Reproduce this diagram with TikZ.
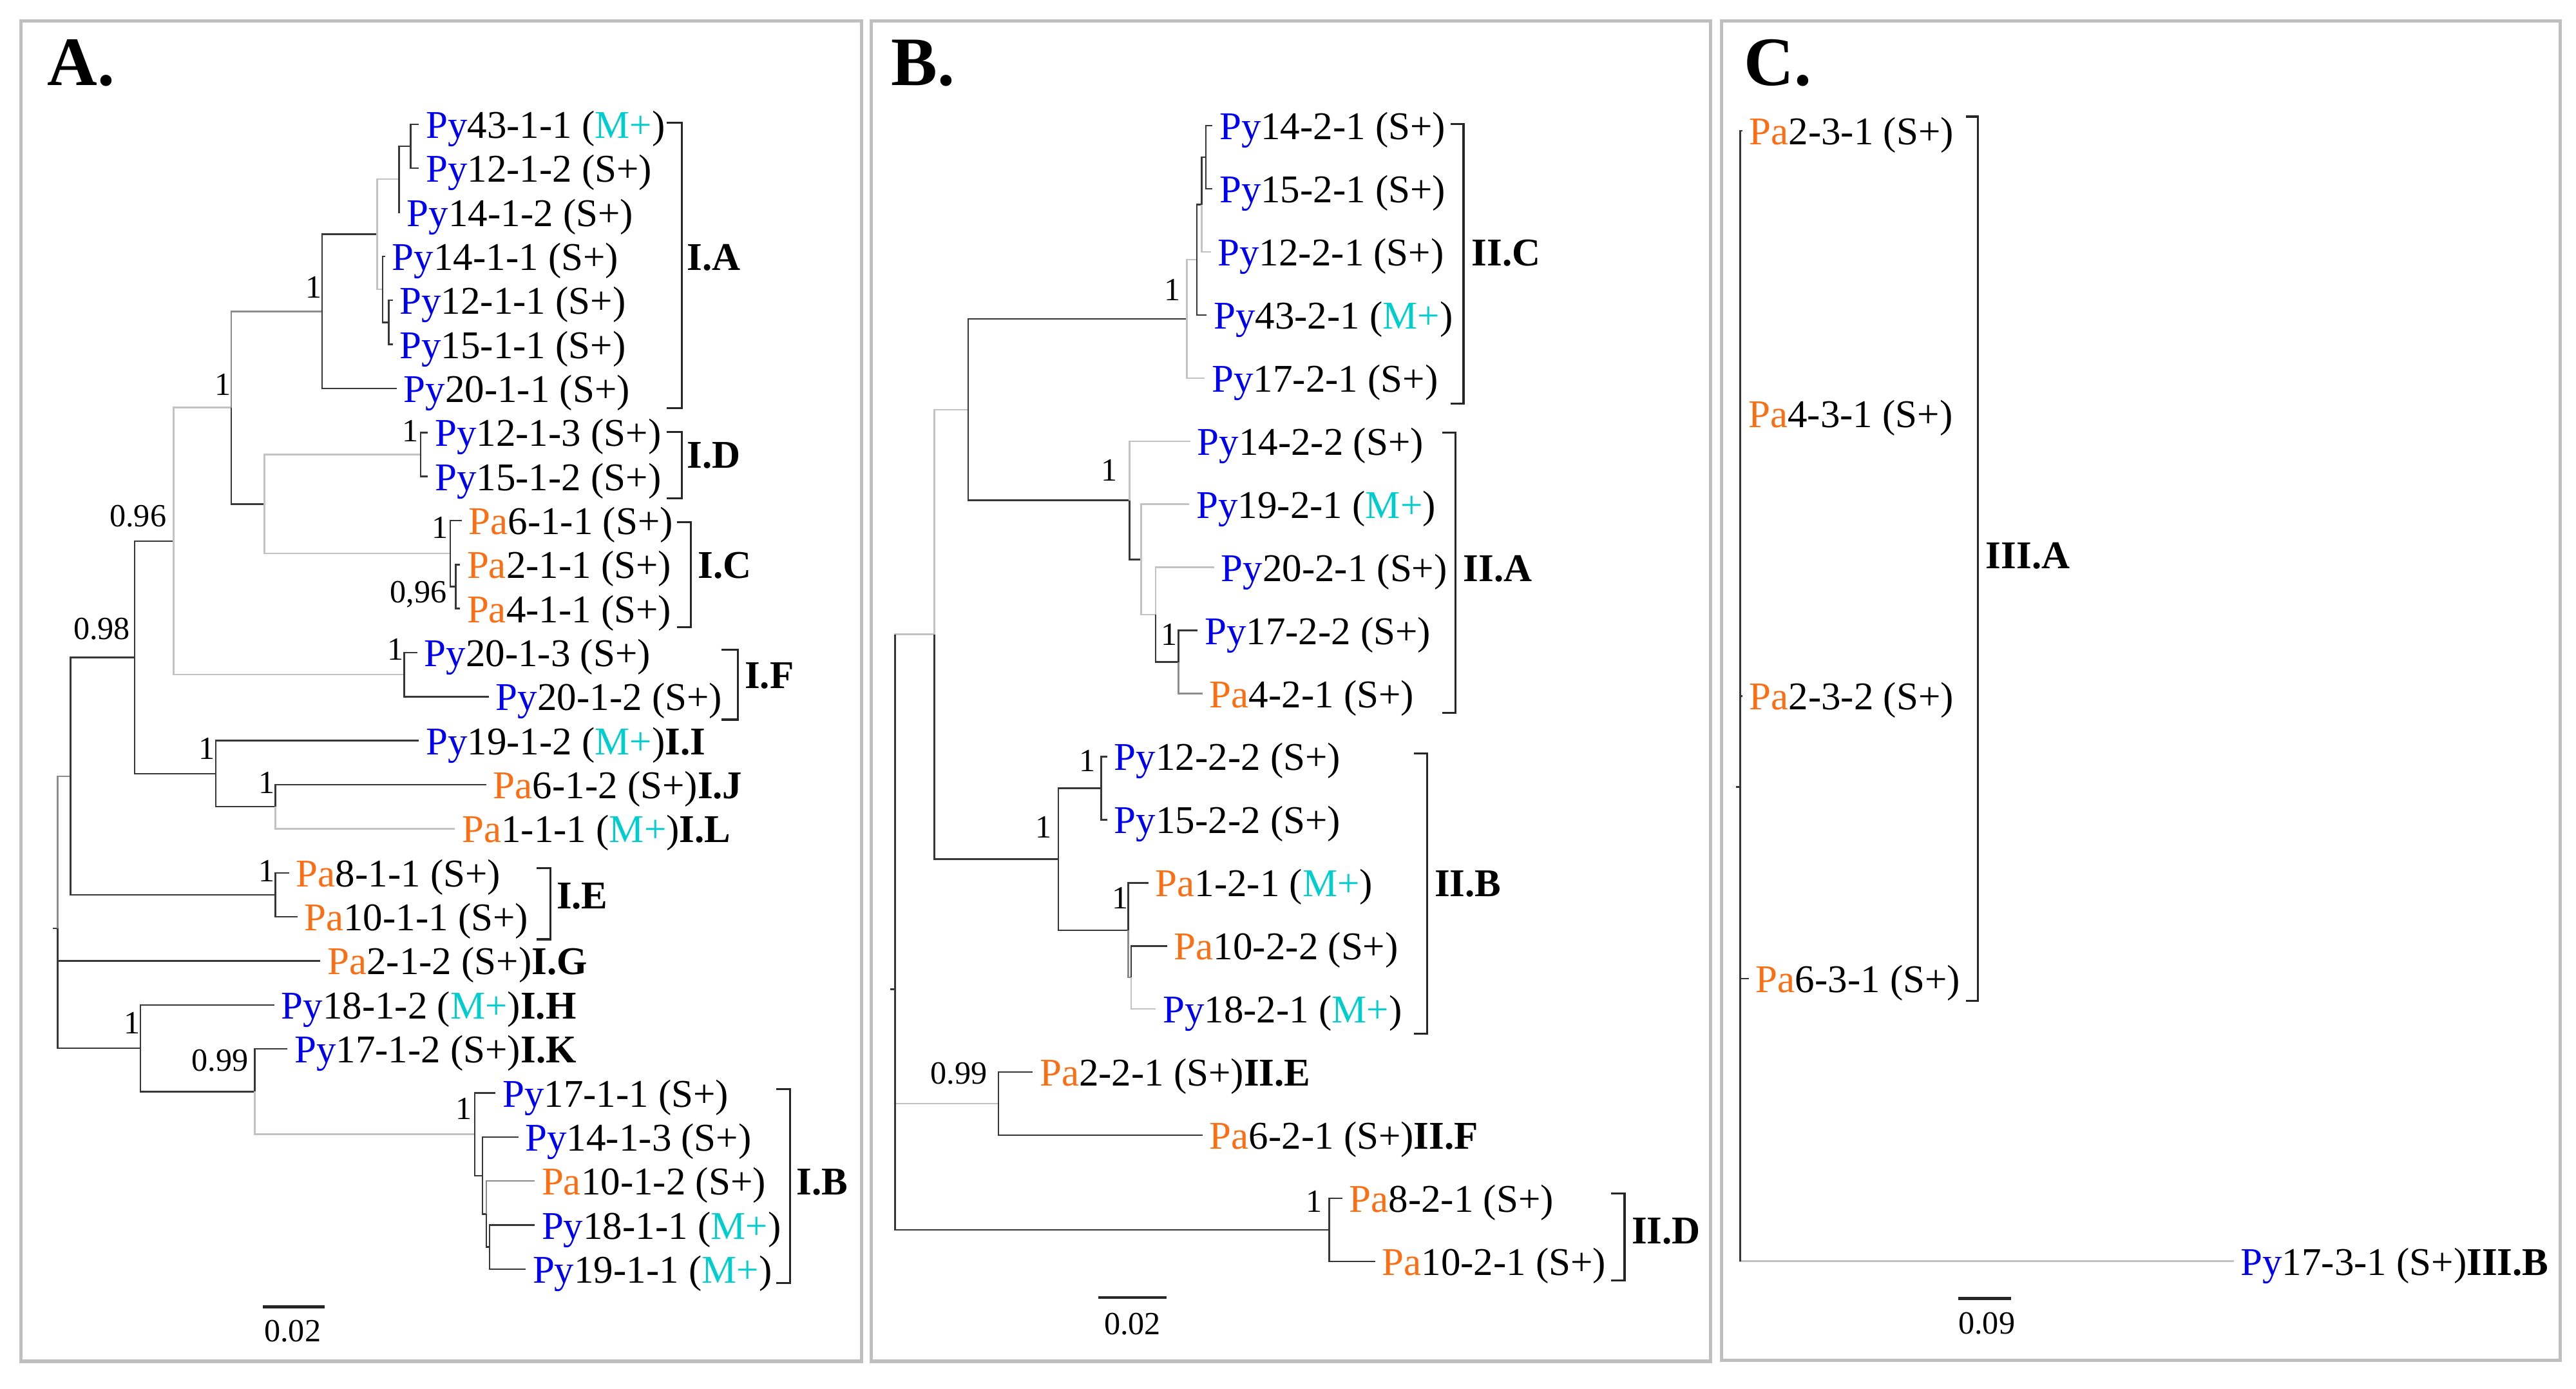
\documentclass[tikz,border=0pt]{standalone}
\usepackage{fontspec}
\setmainfont{Liberation Serif}
\usepackage{tikz}
\definecolor{pyblue}{RGB}{0,0,240}
\definecolor{paorange}{RGB}{250,110,20}
\definecolor{mcyan}{RGB}{0,205,205}
\definecolor{brdark}{RGB}{55,55,55}
\definecolor{brmid}{RGB}{140,140,140}
\definecolor{brlight}{RGB}{195,195,195}
\newcommand{\Py}{\textcolor{pyblue}{Py}}
\newcommand{\Pa}{\textcolor{paorange}{Pa}}
\newcommand{\Mp}{\textcolor{mcyan}{M+}}
\newcommand{\leaffont}{\fontsize{17}{19}\selectfont}
\newcommand{\suppfont}{\fontsize{14}{16}\selectfont}

\begin{document}
\begin{tikzpicture}[x=0.025cm,y=-0.025cm]
  \tikzstyle{leaf}=[anchor=west,inner xsep=0.1cm,inner ysep=0pt,text height=12pt,text depth=0pt,font=\leaffont]
  \tikzstyle{clade}=[anchor=west,inner sep=0pt,text height=12pt,text depth=0pt,font=\leaffont\bfseries]
  \tikzstyle{supp}=[inner sep=0pt,text height=9.5pt,text depth=0pt,font=\suppfont]
  \tikzstyle{panel}=[anchor=base west,inner sep=0pt,font=\fontsize{30}{32}\selectfont\bfseries]
  \tikzstyle{panelbox}=[draw=black!25,line width=1.4pt]
  \tikzstyle{brD}=[draw=brdark,line width=0.7pt]
  \tikzstyle{brM}=[draw=brmid,line width=0.7pt]
  \tikzstyle{brL}=[draw=brlight,line width=0.7pt]
  \tikzstyle{brk}=[draw=black!85,line width=0.9pt]
  \tikzstyle{sbar}=[draw=black!85,line width=1.3pt]
  \useasboundingbox (0,0) rectangle (1568,845);

  \draw[panelbox] (12.7,12.6) rectangle (524.5,828.5);
  \draw[panelbox] (530.2,12.6) rectangle (1041.1,828.5);
  \draw[panelbox] (1047.8,12.9) rectangle (1558.2,828.1);
  \node[panel] (labA) at (28.5,51.8) {A.};
  \node[panel] (labB) at (542.1,51.8) {B.};
  \node[panel] (labC) at (1061.5,51.8) {C.};

  % panel A
  \coordinate (rootA0) at (32,565.1);
  \coordinate (rootA) at (35,565.1);
  \coordinate (nA0) at (43,472.4);
  \coordinate (n098) at (82,400.1);
  \coordinate (n096) at (105.6,329.4);
  \coordinate (nIAD) at (140.8,248.1);
  \coordinate (nIA) at (196,189.5);
  \coordinate (nIA1) at (229.5,142.6);
  \coordinate (nIA2) at (243,109.1);
  \coordinate (nIA3) at (250,89.0);
  \coordinate (nIA4) at (233,176.1);
  \coordinate (nIA5) at (236.6,196.2);
  \coordinate (nIDC) at (161,306.8);
  \coordinate (nID) at (256,276.6);
  \coordinate (nIC) at (274,336.9);
  \coordinate (nIC1) at (277.5,357);
  \coordinate (nIF) at (246,410.6);
  \coordinate (nIJL) at (131.4,470.9);
  \coordinate (nJL) at (167.6,491);
  \coordinate (nIE) at (167.6,544.6);
  \coordinate (nIHK) at (85.5,638);
  \coordinate (n099) at (155,664.4);
  \coordinate (nIB) at (289,690.3);
  \coordinate (nIB1) at (293.6,715.5);
  \coordinate (nIB2) at (296,738.9);
  \coordinate (nIB3) at (298,759);

  \node[leaf] (py4311) at (255,75.6) {\Py43-1-1 (\Mp)};
  \node[leaf] (py1212) at (255,102.4) {\Py12-1-2 (S+)};
  \node[leaf] (py1412) at (243.5,129.2) {\Py14-1-2 (S+)};
  \node[leaf] (py1411) at (234.5,156.0) {\Py14-1-1 (S+)};
  \node[leaf] (py1211) at (239,182.8) {\Py12-1-1 (S+)};
  \node[leaf] (py1511) at (239,209.6) {\Py15-1-1 (S+)};
  \node[leaf] (py2011) at (241.5,236.4) {\Py20-1-1 (S+)};
  \node[leaf] (py1213) at (260.5,263.2) {\Py12-1-3 (S+)};
  \node[leaf] (py1512) at (260.5,290.0) {\Py15-1-2 (S+)};
  \node[leaf] (pa611) at (281,316.8) {\Pa6-1-1 (S+)};
  \node[leaf] (pa211) at (280,343.6) {\Pa2-1-1 (S+)};
  \node[leaf] (pa411) at (280,370.4) {\Pa4-1-1 (S+)};
  \node[leaf] (py2013) at (254,397.2) {\Py20-1-3 (S+)};
  \node[leaf] (py2012) at (297.6,424.0) {\Py20-1-2 (S+)};
  \node[leaf] (py1912) at (255,450.8) {\Py19-1-2 (\Mp)\textbf{I.I}};
  \node[leaf] (pa612) at (296,477.6) {\Pa6-1-2 (S+)\textbf{I.J}};
  \node[leaf] (pa111) at (277,504.4) {\Pa1-1-1 (\Mp)\textbf{I.L}};
  \node[leaf] (pa811) at (176,531.2) {\Pa8-1-1 (S+)};
  \node[leaf] (pa1011) at (181,558.0) {\Pa10-1-1 (S+)};
  \node[leaf] (pa212) at (195,584.8) {\Pa2-1-2 (S+)\textbf{I.G}};
  \node[leaf] (py1812) at (167,611.6) {\Py18-1-2 (\Mp)\textbf{I.H}};
  \node[leaf] (py1712) at (175,638.4) {\Py17-1-2 (S+)\textbf{I.K}};
  \node[leaf] (py1711) at (301.6,665.2) {\Py17-1-1 (S+)};
  \node[leaf] (py1413) at (315.5,692.0) {\Py14-1-3 (S+)};
  \node[leaf] (pa1012) at (325.5,718.8) {\Pa10-1-2 (S+)};
  \node[leaf] (py1811) at (325.5,745.6) {\Py18-1-1 (\Mp)};
  \node[leaf] (py1911) at (320,772.4) {\Py19-1-1 (\Mp)};

  \draw[brD] (rootA0) -- (rootA);
  \draw[brM] (rootA) |- (nA0);
  \draw[brD] (rootA) |- (pa212.west);
  \draw[brD] (rootA) |- (nIHK);
  \draw[brD] (nA0) |- (n098);
  \draw[brD] (nA0) |- (nIE);
  \draw[brD] (n098) |- (n096);
  \draw[brD] (n098) |- (nIJL);
  \draw[brL] (n096) |- (nIAD);
  \draw[brL] (n096) |- (nIF);
  \draw[brM] (nIAD) |- (nIA);
  \draw[brD] (nIAD) |- (nIDC);
  \draw[brD] (nIA) |- (nIA1);
  \draw[brD] (nIA) |- (py2011.west);
  \draw[brL] (nIA1) |- (nIA2);
  \draw[brL] (nIA1) |- (nIA4);
  \draw[brD] (nIA2) |- (nIA3);
  \draw[brD] (nIA2) |- (py1412.west);
  \draw[brD] (nIA3) |- (py4311.west);
  \draw[brD] (nIA3) |- (py1212.west);
  \draw[brD] (nIA4) |- (py1411.west);
  \draw[brD] (nIA4) |- (nIA5);
  \draw[brD] (nIA5) |- (py1211.west);
  \draw[brD] (nIA5) |- (py1511.west);
  \draw[brL] (nIDC) |- (nID);
  \draw[brL] (nIDC) |- (nIC);
  \draw[brD] (nID) |- (py1213.west);
  \draw[brD] (nID) |- (py1512.west);
  \draw[brD] (nIC) |- (pa611.west);
  \draw[brD] (nIC) |- (nIC1);
  \draw[brD] (nIC1) |- (pa211.west);
  \draw[brD] (nIC1) |- (pa411.west);
  \draw[brD] (nIF) |- (py2013.west);
  \draw[brD] (nIF) |- (py2012.west);
  \draw[brD] (nIJL) |- (py1912.west);
  \draw[brD] (nIJL) |- (nJL);
  \draw[brD] (nJL) |- (pa612.west);
  \draw[brL] (nJL) |- (pa111.west);
  \draw[brD] (nIE) |- (pa811.west);
  \draw[brD] (nIE) |- (pa1011.west);
  \draw[brD] (nIHK) |- (py1812.west);
  \draw[brD] (nIHK) |- (n099);
  \draw[brD] (n099) |- (py1712.west);
  \draw[brL] (n099) |- (nIB);
  \draw[brD] (nIB) |- (py1711.west);
  \draw[brD] (nIB) |- (nIB1);
  \draw[brD] (nIB1) |- (py1413.west);
  \draw[brD] (nIB1) |- (nIB2);
  \draw[brM] (nIB2) |- (pa1012.west);
  \draw[brD] (nIB2) |- (nIB3);
  \draw[brD] (nIB3) |- (py1811.west);
  \draw[brD] (nIB3) |- (py1911.west);

  \node[supp] (sIA) at (191,174.6) {1};
  \node[supp] (sIAD) at (135.7,234) {1};
  \node[supp] (s096) at (84,314) {0.96};
  \node[supp] (s098) at (62,382.5) {0.98};
  \node[supp] (sID) at (249.7,262) {1};
  \node[supp] (sIC) at (268,321) {1};
  \node[supp] (sIC1) at (254.7,360) {0,96};
  \node[supp] (sIF) at (240.6,395) {1};
  \node[supp] (sIJL) at (125.7,455.5) {1};
  \node[supp] (sJL) at (162.5,476) {1};
  \node[supp] (sIE) at (162.5,530) {1};
  \node[supp] (sIHK) at (80.4,622.6) {1};
  \node[supp] (s099) at (134,645.3) {0.99};
  \node[supp] (sIB) at (282.5,674.6) {1};

  \draw[brk] (406,74.6) -- (415,74.6) -- (415,248.5) -- (406,248.5);
  \node[clade] (cIA) at (418,156) {I.A};
  \draw[brk] (406,262.9) -- (415,262.9) -- (415,303.3) -- (406,303.3);
  \node[clade] (cID) at (418,276.6) {I.D};
  \draw[brk] (412,317.7) -- (420.6,317.7) -- (420.6,381.6) -- (412,381.6);
  \node[clade] (cIC) at (424.5,343.6) {I.C};
  \draw[brk] (439,395.5) -- (449,395.5) -- (449,438) -- (439,438);
  \node[clade] (cIF) at (453,410.6) {I.F};
  \draw[brk] (326.7,528.4) -- (335,528.4) -- (335,571.7) -- (326.7,571.7);
  \node[clade] (cIE) at (338.5,544.6) {I.E};
  \draw[brk] (472.5,662.9) -- (481,662.9) -- (481,780.9) -- (472.5,780.9);
  \node[clade] (cIB) at (484.5,718.8) {I.B};

  \coordinate (sbA1) at (160,795.4);
  \coordinate (sbA2) at (197.7,795.4);
  \draw[sbar] (sbA1) -- (sbA2);
  \node[supp] (scA) at (178.1,810) {0.02};

  % panel B
  \coordinate (rootB0) at (542,602.1);
  \coordinate (rootB) at (544.8,602.1);
  \coordinate (nB0) at (568.7,386.1);
  \coordinate (nCA) at (589.4,249.3);
  \coordinate (nIIC) at (722.4,194.1);
  \coordinate (nIIC1) at (728.5,158.1);
  \coordinate (nIIC2) at (731.5,124.5);
  \coordinate (nIIC3) at (734,95.7);
  \coordinate (nIIA) at (687.5,304.5);
  \coordinate (nIIA1) at (694.5,340.5);
  \coordinate (nIIA2) at (703.5,374.1);
  \coordinate (nIIA3) at (717.4,402.9);
  \coordinate (nIIB) at (644.3,522.9);
  \coordinate (nIIB1) at (670.2,479.7);
  \coordinate (nIIB2) at (686.8,566.1);
  \coordinate (nIIB3) at (688.5,594.9);
  \coordinate (nIIEF) at (607.7,671.7);
  \coordinate (nIID) at (809,748.5);

  \node[leaf] (py1421) at (738,76.5) {\Py14-2-1 (S+)};
  \node[leaf] (py1521) at (738,114.9) {\Py15-2-1 (S+)};
  \node[leaf] (py1221) at (737,153.3) {\Py12-2-1 (S+)};
  \node[leaf] (py4321) at (734.5,191.7) {\Py43-2-1 (\Mp)};
  \node[leaf] (py1721) at (733.4,230.1) {\Py17-2-1 (S+)};
  \node[leaf] (py1422) at (724.5,268.5) {\Py14-2-2 (S+)};
  \node[leaf] (py1921) at (724,306.9) {\Py19-2-1 (\Mp)};
  \node[leaf] (py2021) at (739,345.3) {\Py20-2-1 (S+)};
  \node[leaf] (py1722) at (729,383.7) {\Py17-2-2 (S+)};
  \node[leaf] (pa421) at (732,422.1) {\Pa4-2-1 (S+)};
  \node[leaf] (py1222) at (674,460.5) {\Py12-2-2 (S+)};
  \node[leaf] (py1522) at (674,498.9) {\Py15-2-2 (S+)};
  \node[leaf] (pa121) at (699,537.3) {\Pa1-2-1 (\Mp)};
  \node[leaf] (pa1022) at (710.5,575.7) {\Pa10-2-2 (S+)};
  \node[leaf] (py1821) at (703.5,614.1) {\Py18-2-1 (\Mp)};
  \node[leaf] (pa221) at (628.6,652.5) {\Pa2-2-1 (S+)\textbf{II.E}};
  \node[leaf] (pa621) at (732,690.9) {\Pa6-2-1 (S+)\textbf{II.F}};
  \node[leaf] (pa821) at (817,729.3) {\Pa8-2-1 (S+)};
  \node[leaf] (pa1021) at (837,767.7) {\Pa10-2-1 (S+)};

  \draw[brD] (rootB0) -- (rootB);
  \draw[brL] (rootB) |- (nB0);
  \draw[brL] (rootB) |- (nIIEF);
  \draw[brD] (rootB) |- (nIID);
  \draw[brD] (rootB |- nB0) -- (rootB |- nIIEF);
  \draw[brL] (nB0) |- (nCA);
  \draw[brD] (nB0) |- (nIIB);
  \draw[brD] (nCA) |- (nIIC);
  \draw[brD] (nCA) |- (nIIA);
  \draw[brL] (nIIC) |- (nIIC1);
  \draw[brL] (nIIC) |- (py1721.west);
  \draw[brD] (nIIC1) |- (nIIC2);
  \draw[brD] (nIIC1) |- (py4321.west);
  \draw[brD] (nIIC2) |- (nIIC3);
  \draw[brL] (nIIC2) |- (py1221.west);
  \draw[brD] (nIIC3) |- (py1421.west);
  \draw[brD] (nIIC3) |- (py1521.west);
  \draw[brL] (nIIA) |- (py1422.west);
  \draw[brD] (nIIA) |- (nIIA1);
  \draw[brL] (nIIA1) |- (py1921.west);
  \draw[brL] (nIIA1) |- (nIIA2);
  \draw[brL] (nIIA2) |- (py2021.west);
  \draw[brD] (nIIA2) |- (nIIA3);
  \draw[brD] (nIIA3) |- (py1722.west);
  \draw[brM] (nIIA3) |- (pa421.west);
  \draw[brD] (nIIB) |- (nIIB1);
  \draw[brD] (nIIB) |- (nIIB2);
  \draw[brD] (nIIB1) |- (py1222.west);
  \draw[brD] (nIIB1) |- (py1522.west);
  \draw[brD] (nIIB2) |- (pa121.west);
  \draw[brM] (nIIB2) |- (nIIB3);
  \draw[brD] (nIIB3) |- (pa1022.west);
  \draw[brL] (nIIB3) |- (py1821.west);
  \draw[brD] (nIIEF) |- (pa221.west);
  \draw[brD] (nIIEF) |- (pa621.west);
  \draw[brD] (nIID) |- (pa821.west);
  \draw[brD] (nIID) |- (pa1021.west);

  \node[supp] (sIIC) at (713.5,176.4) {1};
  \node[supp] (sIIA) at (675.2,286.2) {1};
  \node[supp] (sIIA3) at (711.8,386.1) {1};
  \node[supp] (sIIB1) at (661.9,462.7) {1};
  \node[supp] (sIIB) at (635.3,503.2) {1};
  \node[supp] (sIIB2) at (681.8,546.4) {1};
  \node[supp] (sIIEF) at (583.7,652.9) {0.99};
  \node[supp] (sIID) at (800,731.2) {1};

  \draw[brk] (883,75.6) -- (890.8,75.6) -- (890.8,245.8) -- (883,245.8);
  \node[clade] (cIIC) at (895.5,153.3) {II.C};
  \draw[brk] (878,263.2) -- (885.8,263.2) -- (885.8,433.8) -- (878,433.8);
  \node[clade] (cIIA) at (890.5,345.3) {II.A};
  \draw[brk] (860.8,458.5) -- (868.8,458.5) -- (868.8,629.2) -- (860.8,629.2);
  \node[clade] (cIIB) at (873,537.3) {II.B};
  \draw[brk] (980.6,726.5) -- (988.9,726.5) -- (988.9,779.4) -- (980.6,779.4);
  \node[clade] (cIID) at (993,748.5) {II.D};

  \coordinate (sbB1) at (668.5,789.7);
  \coordinate (sbB2) at (710.1,789.7);
  \draw[sbar] (sbB1) -- (sbB2);
  \node[supp] (scB) at (689.3,805.4) {0.02};

  % panel C
  \coordinate (rootC0) at (1056.5,479);
  \coordinate (rootC) at (1059.2,479);
  \node[leaf] (pa231) at (1060.5,79.6) {\Pa2-3-1 (S+)};
  \node[leaf] (pa431) at (1060,251.6) {\Pa4-3-1 (S+)};
  \node[leaf] (pa232) at (1060.5,423.6) {\Pa2-3-2 (S+)};
  \node[leaf] (pa631) at (1064.5,595.6) {\Pa6-3-1 (S+)};
  \node[leaf] (py1731) at (1359.6,767.6) {\Py17-3-1 (S+)\textbf{III.B}};

  \draw[brD] (rootC0) -- (rootC);
  \draw[brD] (rootC) |- (pa231.west);
  \draw[brD] (rootC) |- (pa431.west);
  \draw[brD] (rootC) |- (pa232.west);
  \draw[brL] (rootC) |- (py1731.west);
  \draw[brD] (rootC) |- (pa631.west);
  \draw[brD] (rootC) -- (rootC |- py1731.west);

  \draw[brk] (1196.5,71) -- (1203.8,71) -- (1203.8,609) -- (1196.5,609);
  \node[clade] (cIIIA) at (1208.5,337.6) {III.A};

  \coordinate (sbC1) at (1192.1,790.4);
  \coordinate (sbC2) at (1224,790.4);
  \draw[sbar] (sbC1) -- (sbC2);
  \node[supp] (scC) at (1209.3,805.3) {0.09};
\end{tikzpicture}
\end{document}
